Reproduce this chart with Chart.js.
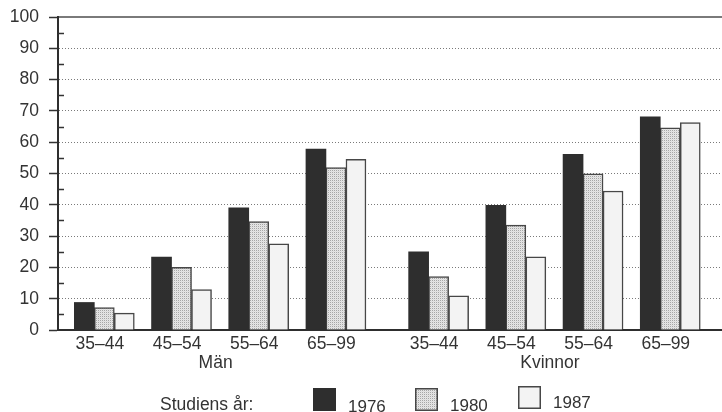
<!DOCTYPE html>
<html>
<head>
<meta charset="utf-8">
<script src="https://cdn.jsdelivr.net/npm/chart.js@4"></script>
<style>
html,body{margin:0;padding:0;background:#fff;}
#wrap{width:722px;height:412px;position:relative;}
</style>
</head>
<body>
<div id="wrap"><canvas id="c" width="722" height="412"></canvas></div>
<script>
// ---- data ----
const categories = ['35–44', '45–54', '55–64', '65–99'];
const groups = ['Män', 'Kvinnor'];
const years = ['1976', '1980', '1987'];
// values: Män (4 age groups) then Kvinnor (4 age groups)
const v1976 = [8.8, 23.3, 39.0, 57.8, 25.0, 39.8, 56.1, 68.1];
const v1980 = [7.2, 20.0, 34.6, 51.9, 17.1, 33.5, 49.9, 64.6];
const v1987 = [5.4, 12.9, 27.5, 54.5, 10.9, 23.4, 44.4, 66.3];
const yTickValues = [0, 10, 20, 30, 40, 50, 60, 70, 80, 90, 100];
const legendTitle = 'Studiens år:';

// ---- layout helpers ----
const GROUP_GAP = 0.33;
function slot(g, i) { return g * (categories.length + GROUP_GAP) + i; }
const positions = [];
groups.forEach((g, gi) => categories.forEach((c, ci) => positions.push(slot(gi, ci))));
const tickVals = [], tickLabels = [];
groups.forEach((g, gi) => categories.forEach((c, ci) => { tickVals.push(slot(gi, ci)); tickLabels.push(c); }));
groups.forEach((g, gi) => { tickVals.push(slot(gi, (categories.length - 1) / 2)); tickLabels.push(['', g]); });

function pts(arr) { return arr.map((v, i) => ({x: positions[i], y: v})); }

// stipple pattern for 1980
function makePattern() {
  const p = document.createElement('canvas');
  p.width = 2; p.height = 2;
  const c = p.getContext('2d');
  c.fillStyle = '#e6e6e6'; c.fillRect(0, 0, 2, 2);
  c.fillStyle = '#a6a6a6'; c.fillRect(0, 0, 1, 1);
  c.fillStyle = '#dcdcdc'; c.fillRect(1, 1, 1, 1);
  return document.getElementById('c').getContext('2d').createPattern(p, 'repeat');
}
const stipple = makePattern();
const FILLS = ['#2e2e2e', stipple, '#f3f3f3'];
const BORDERS = ['#2e2e2e', '#474747', '#474747'];
const FONT = "'Liberation Sans', Arial, Helvetica, sans-serif";
const TXT = '#333';

const minorTicks = {
  id: 'minorTicks',
  afterDraw(chart) {
    const y = chart.scales.y, ctx = chart.ctx;
    const x0 = chart.chartArea.left;
    ctx.save();
    ctx.strokeStyle = '#333'; ctx.lineWidth = 1.5;
    for (let i = 0; i < yTickValues.length - 1; i++) {
      const v = (yTickValues[i] + yTickValues[i + 1]) / 2;
      const py = Math.round(y.getPixelForValue(v)) + 0.5;
      ctx.beginPath(); ctx.moveTo(x0, py); ctx.lineTo(x0 + 6, py); ctx.stroke();
    }
    ctx.restore();
  }
};

const customLegend = {
  id: 'customLegend',
  afterDraw(chart) {
    const ctx = chart.ctx;
    ctx.save();
    ctx.fillStyle = TXT;
    ctx.textBaseline = 'alphabetic';
    ctx.font = '17.5px ' + FONT;
    ctx.textAlign = 'left';
    ctx.fillText(legendTitle, 160, 410);
    const boxX = [313, 415, 518];
    const boxY = [388, 388, 386];
    const txtY = [412, 411, 408];
    years.forEach((yr, i) => {
      ctx.fillStyle = FILLS[i];
      ctx.fillRect(boxX[i], boxY[i], 23, 23);
      if (i > 0) {
        ctx.strokeStyle = BORDERS[i]; ctx.lineWidth = 1.5;
        ctx.strokeRect(boxX[i] + 0.75, boxY[i] + 0.75, 21.5, 21.5);
      }
      ctx.fillStyle = TXT;
      ctx.font = '17px ' + FONT;
      ctx.fillText(yr, boxX[i] + 35, txtY[i]);
    });
    ctx.restore();
  }
};

const datasets = [v1976, v1980, v1987].map((arr, i) => ({
  label: years[i],
  data: pts(arr),
  backgroundColor: FILLS[i],
  borderColor: BORDERS[i],
  borderWidth: i === 0 ? 0 : 1.5,
  barThickness: 20,
}));

new Chart(document.getElementById('c'), {
  type: 'bar',
  data: {datasets},
  options: {
    responsive: false,
    animation: false,
    events: [],
    layout: {padding: {top: 17, right: 0, bottom: 0, left: 0}},
    plugins: {legend: {display: false}, tooltip: {enabled: false}},
    scales: {
      x: {
        type: 'linear',
        position: 'bottom',
        offset: false,
        min: -0.6,
        max: 8.0,
        afterFit(s) { s.height = 82; s.paddingLeft = 0; s.paddingRight = 0; },
        afterBuildTicks(s) { s.ticks = tickVals.map(v => ({value: v})); },
        grid: {display: false, drawTicks: false},
        border: {display: true, color: '#2e2e2e', width: 2},
        ticks: {
          autoSkip: false, maxRotation: 0, minRotation: 0,
          padding: 4,
          labelOffset: -4.5,
          color: TXT,
          font: {family: FONT, size: 17.5, lineHeight: 1.12},
          callback: (v, i) => tickLabels[i]
        }
      },
      xTop: {
        type: 'linear',
        position: 'top',
        display: true,
        afterFit(s) { s.height = 0; s.paddingLeft = 0; s.paddingRight = 0; },
        grid: {display: false, drawTicks: false},
        border: {display: true, color: '#7a7a7a', width: 2},
        ticks: {display: false}
      },
      y: {
        min: 0, max: 100,
        afterFit(s) { s.width = 58; s.paddingTop = 0; s.paddingBottom = 0; },
        afterBuildTicks(s) { s.ticks = yTickValues.map(v => ({value: v})); },
        grid: {
          color: c => (c.tick && (c.tick.value === 0 || c.tick.value === 100)) ? 'rgba(0,0,0,0)' : '#7a7a7a',
          lineWidth: 1,
          tickLength: 9,
          tickColor: '#333',
          tickWidth: 1.5
        },
        border: {display: true, color: '#2e2e2e', width: 2, dash: [1, 2]},
        ticks: {
          padding: 10,
          color: TXT,
          font: {family: FONT, size: 17.5},
          callback: v => String(v)
        }
      }
    }
  },
  plugins: [minorTicks, customLegend]
});
</script>
</body>
</html>
